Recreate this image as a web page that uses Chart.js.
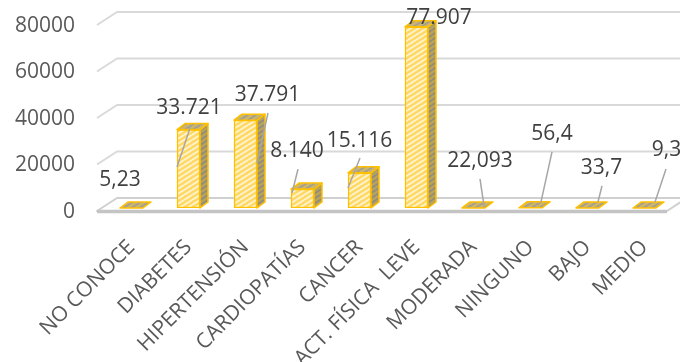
<!DOCTYPE html>
<html>
<head>
<meta charset="utf-8">
<script src="https://cdn.jsdelivr.net/npm/chart.js"></script>
<style>
  html, body { margin: 0; padding: 0; background: #fff; }
  canvas { display: block; }
</style>
</head>
<body>
<canvas id="chart1" width="680" height="362"></canvas>
<script>
/* categories, values and y ticks of the chart */
let categories = ['NO CONOCE', 'DIABETES', 'HIPERTENSIÓN', 'CARDIOPATÍAS', 'CANCER', 'ACT. FÍSICA  LEVE', 'MODERADA', 'NINGUNO', 'BAJO', 'MEDIO'];
let values = [5.23, 33721, 37791, 8140, 15116, 77907, 22.093, 56.4, 33.7, 9.3];
let yTicks = [0, 20000, 40000, 60000, 80000];

// spanish style numbers: 33721 -> 33.721, 5.23 -> 5,23
function formatEs(v) {
  let parts = String(v).split('.');
  let ent = parts[0].replace(/\B(?=(\d{3})+(?!\d))/g, '.');
  return parts.length > 1 ? ent + ',' + parts[1] : ent;
}

// striped fill used on the bar faces
function hatch(bg, fg) {
  let c = document.createElement('canvas');
  c.width = 8; c.height = 5;
  let g = c.getContext('2d');
  g.fillStyle = bg;
  g.fillRect(0, 0, 8, 5);
  g.strokeStyle = fg;
  g.lineWidth = 1.8;
  g.beginPath();
  g.moveTo(0, 5); g.lineTo(8, 0);
  g.moveTo(0, 10); g.lineTo(8, 5);
  g.moveTo(0, 0); g.lineTo(8, -5);
  g.stroke();
  return g.createPattern(c, 'repeat');
}

let frontFill = hatch('#ffd966', '#fff4d2');
let sideFill = hatch('#b9a25a', '#8f8c80');
let topFill = hatch('#cdb56c', '#a29e90');
let orange = '#ffc000';

// depth of the bars and of the walls
const dx = 8, dy = -6;

// where each value label sits, relative to the top of its bar, and its leader line
let labelPos = [[-11.5, -28], [0.5, -21.6], [22, -25], [-5.5, -38], [0, -32], [22.5, -9], [6.5, -47], [21.5, -74], [14, -40], [22, -58]];
let leaders = [null, [-11.5, 37.4, 2.2, -3.6], [11.5, 42.9, 22.5, -7.1], [-10.5, 4, -4.5, -20], [-11.5, 15.1, 0.5, -14.9], null,
  [10.5, -2, 6.5, -29], [10.5, -6, 21.5, -56], [10.5, -6, 14.5, -22], [10.5, -6, 21.5, -39]];

const walls3d = {
  id: 'walls3d',
  beforeDatasetsDraw(chart) {
    const ctx = chart.ctx, ys = chart.scales.y, a = chart.chartArea;
    const fx = a.left - 6, bx = a.left + 14;
    ctx.save();
    ctx.lineJoin = 'round';
    yTicks.forEach(t => {
      const py = ys.getPixelForValue(t);
      if (t === 0) {
        // floor
        ctx.beginPath();
        ctx.moveTo(fx, py + 3);
        ctx.lineTo(bx, py - 10);
        ctx.lineTo(a.right + 14, py - 10);
        ctx.lineTo(a.right - 6, py + 3);
        ctx.closePath();
        ctx.strokeStyle = '#d0d0d0';
        ctx.lineWidth = 2;
        ctx.stroke();
        ctx.beginPath();
        ctx.moveTo(fx, py + 3.5);
        ctx.lineTo(a.right - 6, py + 3.5);
        ctx.strokeStyle = '#c4c4c4';
        ctx.lineWidth = 3.5;
        ctx.stroke();
      } else {
        ctx.beginPath();
        ctx.moveTo(fx, py + 3);
        ctx.lineTo(bx, py - 10);
        ctx.lineTo(chart.width + 10, py - 10);
        ctx.strokeStyle = '#d9d9d9';
        ctx.lineWidth = 2;
        ctx.stroke();
      }
    });
    ctx.restore();
  },
  afterDatasetsDraw(chart) {
    const ctx = chart.ctx;
    const meta = chart.getDatasetMeta(0);
    ctx.save();
    ctx.lineJoin = 'round';
    ctx.strokeStyle = orange;
    ctx.lineWidth = 1.5;
    meta.data.forEach(bar => {
      const p = bar.getProps(['x', 'y', 'base', 'width'], true);
      const l = p.x - p.width / 2, r = p.x + p.width / 2;
      // right side
      if (p.base - p.y > 1) {
        ctx.beginPath();
        ctx.moveTo(r, p.y);
        ctx.lineTo(r + dx, p.y + dy);
        ctx.lineTo(r + dx, p.base + dy);
        ctx.lineTo(r, p.base);
        ctx.closePath();
        ctx.fillStyle = sideFill;
        ctx.fill();
        ctx.stroke();
      }
      // top
      ctx.beginPath();
      ctx.moveTo(l, p.y);
      ctx.lineTo(l + dx, p.y + dy);
      ctx.lineTo(r + dx, p.y + dy);
      ctx.lineTo(r, p.y);
      ctx.closePath();
      ctx.fillStyle = topFill;
      ctx.fill();
      ctx.stroke();
    });

    // leader lines and value labels
    ctx.strokeStyle = '#a6a6a6';
    ctx.lineWidth = 1.5;
    ctx.font = '21px "Open Sans"';
    ctx.fillStyle = '#404040';
    ctx.textAlign = 'center';
    ctx.textBaseline = 'middle';
    meta.data.forEach((bar, i) => {
      const p = bar.getProps(['x', 'y'], true);
      const ld = leaders[i];
      if (ld) {
        ctx.beginPath();
        ctx.moveTo(p.x + ld[0], p.y + ld[1]);
        ctx.lineTo(p.x + ld[2], p.y + ld[3]);
        ctx.stroke();
      }
      ctx.fillText(formatEs(values[i]), p.x + labelPos[i][0], p.y + labelPos[i][1]);
    });
    ctx.restore();
  }
};

const data = {
  labels: categories,
  datasets: [{
    data: values,
    backgroundColor: frontFill,
    borderColor: orange,
    borderWidth: 1.5,
    borderSkipped: false,
    barThickness: 23
  }]
};

const config = {
  type: 'bar',
  data: data,
  options: {
    responsive: false,
    animation: false,
    layout: { padding: { top: 22, right: 7, left: 0, bottom: 0 } },
    plugins: { legend: { display: false }, tooltip: { enabled: false } },
    scales: {
      x: {
        grid: { display: false, drawTicks: false },
        border: { display: false },
        ticks: {
          autoSkip: false, minRotation: 45, maxRotation: 45, padding: 27,
          color: '#595959', font: { family: 'Open Sans', size: 21 }
        },
        afterFit(s) {
          s.height = 154;
          s.paddingTop = 0; s.paddingBottom = 0;
          s.paddingLeft = 0; s.paddingRight = 0;
        }
      },
      y: {
        min: yTicks[0],
        max: yTicks[yTicks.length - 1],
        grid: { display: false, drawTicks: false },
        border: { display: false },
        ticks: {
          stepSize: yTicks[1] - yTicks[0], padding: 28, labelOffset: 4,
          color: '#595959', font: { family: 'Open Sans', size: 21 },
          callback: v => String(v)
        },
        afterFit(s) { s.width = 103; s.paddingTop = 0; s.paddingBottom = 0; }
      }
    }
  },
  plugins: [walls3d]
};

const myChart = new Chart(document.getElementById('chart1'), config);
</script>
</body>
</html>
